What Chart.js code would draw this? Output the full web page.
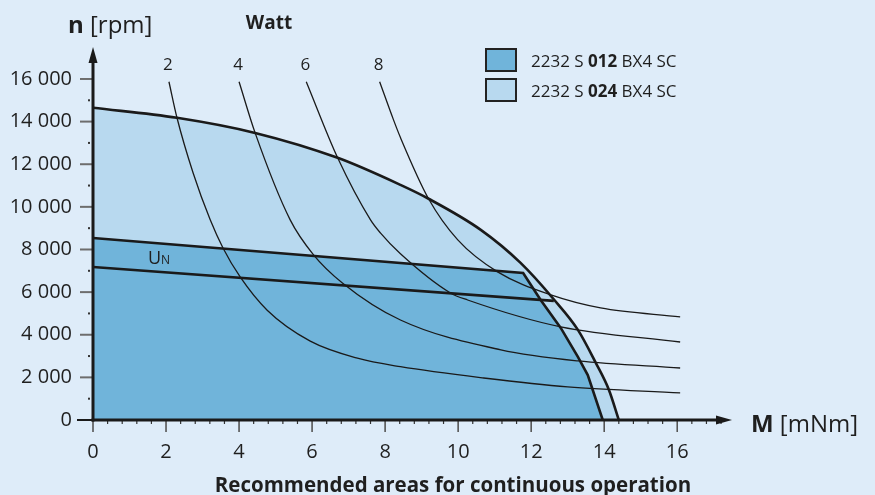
<!DOCTYPE html>
<html>
<head>
<meta charset="utf-8">
<script src="https://cdn.jsdelivr.net/npm/chart.js@4/dist/chart.umd.min.js"></script>
<style>
  body { margin: 0; background: #deecf9; }
</style>
</head>
<body>
<canvas id="grafico" width="875" height="495"></canvas>
<script>
// marcas de los ejes
const xTicks = [0, 2, 4, 6, 8, 10, 12, 14, 16];
const yTicks = [0, 2000, 4000, 6000, 8000, 10000, 12000, 14000, 16000];

// curva limite 2232 S 024 (zona clara)
const torque024 = [0, 2.3, 4.44, 6.7, 8.42, 9.19, 10.62, 11.71, 12.6, 13.28, 13.77, 14.13, 14.4];
const speed024 = [14650, 14180, 13470, 12300, 11030, 10380, 8920, 7370, 5700, 4230, 2680, 1410, 0];

// curva limite 2232 S 012 (zona oscura)
const torque012 = [0, 11.78, 12.26, 12.81, 13.28, 13.55, 13.96];
const speed012 = [8540, 6900, 5630, 4320, 2960, 2110, 0];

// recta UN
const torqueUn = [0, 12.62];
const speedUn = [7180, 5590];

// curvas de potencia (Watt)
const wattLabels = ["2", "4", "6", "8"];
const torqueW2 = [2.08, 2.3, 2.74, 3.21, 3.56, 4.03, 4.77, 5.95, 7.24, 8.42, 10.7, 13.0, 16.08];
const speedW2 = [15870, 14180, 11600, 9390, 8070, 6710, 5150, 3700, 2900, 2500, 1970, 1550, 1270];
const torqueW4 = [4.0, 4.44, 5.4, 6.04, 6.83, 8.42, 11.17, 13.28, 16.08];
const speedW4 = [15870, 13470, 9390, 7750, 6430, 4690, 3290, 2770, 2440];
const torqueW6 = [5.84, 6.7, 7.6, 7.87, 8.42, 9.79, 10.26, 12.81, 16.08];
const speedW6 = [15870, 12300, 9390, 8780, 7800, 5960, 5630, 4370, 3660];
const torqueW8 = [7.85, 8.23, 8.42, 9.19, 9.99, 11.08, 12.54, 13.9, 16.08];
const speedW8 = [15870, 14080, 13250, 10380, 8450, 6950, 5870, 5260, 4840];

// leyenda
const legendPre = "2232 S ";
const legendCodes = ["012", "024"];
const legendPost = " BX4 SC";

const FONDO = "#deecf9";
const CLARO = "#b8d9ef";
const OSCURO = "#70b4da";
const LINEA = "#1a1a1a";
const TEXTO = "#1f1f1f";
const FUENTE = "'Open Sans', 'Noto Sans', sans-serif";

const toPts = (xs, ys) => xs.map((x, i) => ({ x: x, y: ys[i] }));

function texto(c, partes, x, y, align) {
  // partes: [[texto, font], ...]
  let ancho = 0;
  partes.forEach((p) => { c.font = p[1]; ancho += c.measureText(p[0]).width; });
  let xi = align === "center" ? x - ancho / 2 : x;
  c.textAlign = "left";
  c.textBaseline = "alphabetic";
  partes.forEach((p) => {
    c.font = p[1];
    c.fillText(p[0], xi, y);
    xi += c.measureText(p[0]).width;
  });
}

function linea(c, x1, y1, x2, y2) {
  c.beginPath();
  c.moveTo(x1, y1);
  c.lineTo(x2, y2);
  c.stroke();
}

const decoracion = {
  id: "decoracion",
  beforeDraw(chart) {
    const c = chart.ctx;
    c.save();
    c.fillStyle = FONDO;
    c.fillRect(0, 0, chart.width, chart.height);
    c.restore();
  },
  afterDatasetsDraw(chart) {
    const c = chart.ctx;
    const sx = chart.scales.x;
    const sy = chart.scales.y;
    const a = chart.chartArea;
    const x0 = sx.getPixelForValue(0);
    const y0 = sy.getPixelForValue(0);
    c.save();

    // marcas eje y
    for (let v = 1000; v <= 16000; v += 1000) {
      const y = sy.getPixelForValue(v);
      if (v % 2000) {
        c.fillStyle = "#333";
        c.fillRect(x0 - 5, y - 1, 2, 2);
      } else {
        c.strokeStyle = "#6d6d6d";
        c.lineWidth = 2;
        linea(c, x0 - 13, y, x0, y);
      }
    }
    c.strokeStyle = LINEA;
    c.lineWidth = 2;
    linea(c, x0 - 16, y0, x0, y0);

    // marcas eje x
    for (let i = 1; i <= 43; i++) {
      const v = i * 0.4;
      const x = sx.getPixelForValue(v);
      if (i % 5 === 0) {
        c.strokeStyle = "#555";
        c.lineWidth = 1.6;
        linea(c, x, y0, x, y0 + 12);
      } else {
        c.strokeStyle = "#333";
        c.lineWidth = 1.2;
        linea(c, x, y0, x, y0 + 4);
      }
    }
    c.strokeStyle = "#555";
    c.lineWidth = 1.6;
    linea(c, x0, y0, x0, y0 + 12);

    // ejes con flechas
    c.strokeStyle = LINEA;
    c.fillStyle = LINEA;
    c.lineWidth = 3;
    linea(c, x0, y0 + 1.5, x0, a.top + 14);
    linea(c, x0 - 1.5, y0, a.right - 14, y0);
    c.beginPath();
    c.moveTo(x0, a.top);
    c.lineTo(x0 + 4.5, a.top + 16);
    c.lineTo(x0 - 4.5, a.top + 16);
    c.closePath();
    c.fill();
    c.beginPath();
    c.moveTo(a.right, y0);
    c.lineTo(a.right - 16, y0 - 4.5);
    c.lineTo(a.right - 16, y0 + 4.5);
    c.closePath();
    c.fill();

    // textos
    c.fillStyle = TEXTO;
    texto(c, [["n", "bold 24px " + FUENTE], [" [rpm]", "24px " + FUENTE]], 68, 33, "left");
    texto(c, [["M", "bold 24px " + FUENTE], [" [mNm]", "24px " + FUENTE]], 751, 432, "left");
    texto(c, [["Watt", "bold 19px " + FUENTE]], 269, 29, "center");
    texto(c, [["Recommended areas for continuous operation", "bold 20.5px " + FUENTE]], 453, 492, "center");
    texto(c, [["U", "18px " + FUENTE], ["N", "12px " + FUENTE]], 148, 264, "left");

    const inicios = [torqueW2[0], torqueW4[0], torqueW6[0], torqueW8[0]];
    wattLabels.forEach((t, i) => {
      texto(c, [[t, "17px " + FUENTE]], sx.getPixelForValue(inicios[i]) - 1, 70, "center");
    });

    // leyenda
    const colores = [OSCURO, CLARO];
    legendCodes.forEach((cod, i) => {
      const top = 49 + i * 30;
      c.fillStyle = colores[i];
      c.fillRect(486, top, 30, 22);
      c.strokeStyle = "#222";
      c.lineWidth = 2;
      c.strokeRect(486, top, 30, 22);
      c.fillStyle = TEXTO;
      texto(c, [[legendPre, "17px " + FUENTE], [cod, "bold 17px " + FUENTE], [legendPost, "17px " + FUENTE]], 531, top + 18, "left");
    });
    c.restore();
  },
};

const potencia = (xs, ys) => ({
  data: toPts(xs, ys),
  borderColor: LINEA,
  borderWidth: 1.3,
  fill: false,
  pointRadius: 0,
  cubicInterpolationMode: "monotone",
  order: 5,
});

new Chart(document.getElementById("grafico"), {
  type: "line",
  data: {
    datasets: [
      {
        data: toPts(torque024, speed024),
        borderColor: LINEA,
        borderWidth: 2.6,
        backgroundColor: CLARO,
        fill: "origin",
        pointRadius: 0,
        cubicInterpolationMode: "monotone",
        order: 10,
      },
      {
        data: toPts(torque012, speed012),
        borderColor: LINEA,
        borderWidth: 2.6,
        backgroundColor: OSCURO,
        fill: "origin",
        pointRadius: 0,
        tension: 0,
        order: 9,
      },
      {
        data: toPts(torqueUn, speedUn),
        borderColor: LINEA,
        borderWidth: 2.6,
        fill: false,
        pointRadius: 0,
        order: 8,
      },
      potencia(torqueW2, speedW2),
      potencia(torqueW4, speedW4),
      potencia(torqueW6, speedW6),
      potencia(torqueW8, speedW8),
    ],
  },
  options: {
    responsive: false,
    animation: false,
    layout: { padding: { top: 47, right: 143, left: 0, bottom: 0 } },
    plugins: { legend: { display: false }, tooltip: { enabled: false } },
    scales: {
      x: {
        type: "linear",
        min: 0,
        max: 17.5,
        afterFit: (s) => { s.height = 75; },
        afterBuildTicks: (s) => { s.ticks = xTicks.map((v) => ({ value: v })); },
        grid: { display: false, drawTicks: false },
        border: { display: false },
        ticks: {
          padding: 20,
          color: TEXTO,
          font: { family: FUENTE, size: 20 },
          callback: (v) => String(v),
        },
      },
      y: {
        min: 0,
        max: 17500,
        afterFit: (s) => { s.width = 93; },
        afterBuildTicks: (s) => { s.ticks = yTicks.map((v) => ({ value: v })); },
        grid: { display: false, drawTicks: false },
        border: { display: false },
        ticks: {
          padding: 21,
          color: TEXTO,
          font: { family: FUENTE, size: 20 },
          callback: (v) => (v === 0 ? "0" : v / 1000 + " 000"),
        },
      },
    },
  },
  plugins: [decoracion],
});
</script>
</body>
</html>
